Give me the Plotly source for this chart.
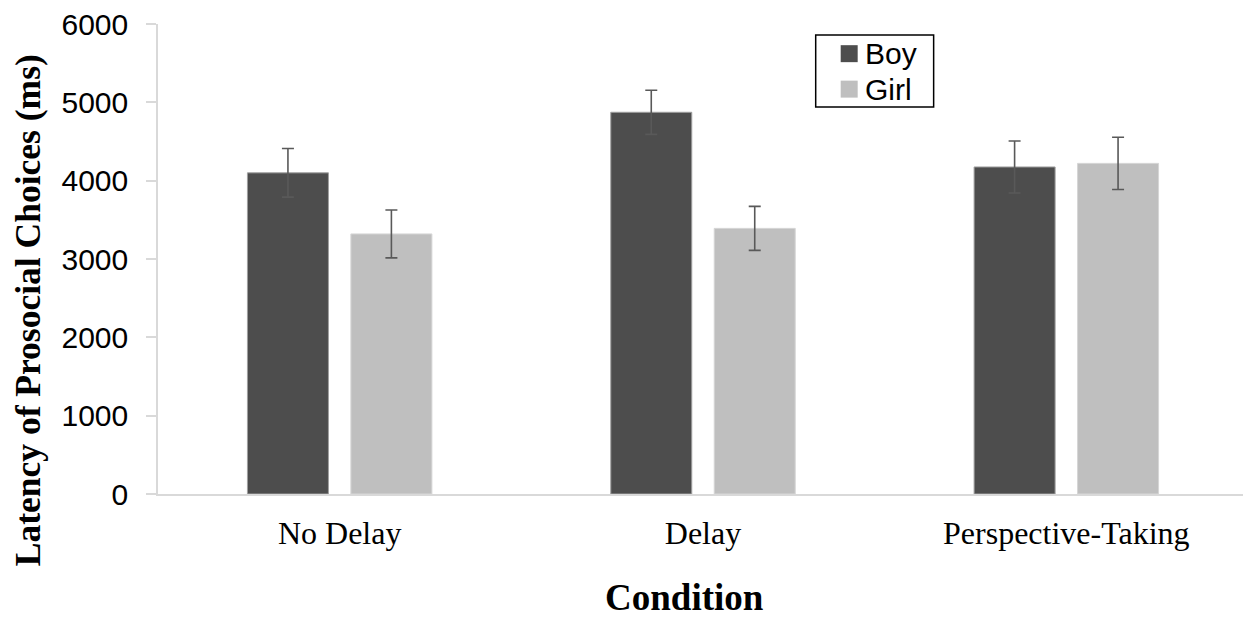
import plotly.graph_objects as go

conditions = ["No Delay", "Delay", "Perspective-Taking"]
boy_values = [4100, 4873, 4175]
boy_errors = [310, 282, 332]
girl_values = [3320, 3391, 4221]
girl_errors = [306, 281, 333]
y_ticks = [0, 1000, 2000, 3000, 4000, 5000, 6000]
series_names = ["Boy", "Girl"]
series_colors = ["#4d4d4d", "#bfbfbf"]
edge_colors = ["#a0a0a0", "#d6d6d6"]

# page body has an 8px default margin; size the figure to fit the window
OFF = 8
W, H = 1251 - OFF, 618 - OFF
PL, PT, PR, PB = 158, 24, 1248.5, 494.5  # plot area in window pixels
L, T = PL - OFF, PT - OFF
R, B = 1251 - PR, 618 - PB

def px(X):
    return (X - PL) / (PR - PL)

def py(Y):
    return (PB - Y) / (PB - PT)

fig = go.Figure()
for name, vals, errs, col, edge in zip(series_names, [boy_values, girl_values],
                                       [boy_errors, girl_errors], series_colors, edge_colors):
    fig.add_trace(go.Bar(
        name=name, x=conditions, y=vals,
        marker=dict(color=col, line=dict(color=edge, width=1)),
        error_y=dict(type="data", array=errs, visible=True,
                     color="#595959", thickness=1.6, width=6),
    ))

shapes = [dict(type="rect", xref="paper", yref="paper",
               x0=px(816), x1=px(934), y0=py(107), y1=py(35),
               line=dict(color="black", width=1.5), fillcolor="white", layer="above")]
annotations = []
for i, (name, col) in enumerate(zip(series_names, series_colors)):
    cy = 53.7 + i * 35.5
    shapes.append(dict(type="rect", xref="paper", yref="paper",
                       x0=px(841), x1=px(858), y0=py(cy + 8.5), y1=py(cy - 8.5),
                       line=dict(width=0), fillcolor=col, layer="above"))
    annotations.append(dict(text=name, xref="paper", yref="paper",
                            x=px(863), y=py(cy), xanchor="left", yanchor="middle",
                            showarrow=False,
                            font=dict(family="Liberation Sans, Arial", size=30, color="black")))

annotations += [
    dict(text="<b>Latency of Prosocial Choices (ms)</b>", textangle=-90,
         xref="paper", yref="paper", x=px(27.5), y=py(311),
         xanchor="center", yanchor="middle", showarrow=False,
         font=dict(family="Liberation Serif, Times New Roman", size=35.5, color="black")),
    dict(text="<b>Condition</b>", xref="paper", yref="paper",
         x=px(685), y=py(598), xanchor="center", yanchor="middle", showarrow=False,
         font=dict(family="Liberation Serif, Times New Roman", size=37, color="black")),
]

fig.update_layout(
    width=W, height=H,
    margin=dict(l=L, r=R, t=T, b=B, pad=0, autoexpand=False),
    paper_bgcolor="white", plot_bgcolor="white",
    barmode="group", bargap=0.4305, bargroupgap=0.217,
    showlegend=False,
    xaxis=dict(
        showline=True, linecolor="#d9d9d9", linewidth=1.5,
        ticks="", showgrid=False, automargin=False,
        tickfont=dict(family="Liberation Serif, Times New Roman", size=32, color="black"),
        ticklabelstandoff=10,
    ),
    yaxis=dict(
        range=[0, 6000], tickvals=y_ticks, automargin=False,
        showline=True, linecolor="#d9d9d9", linewidth=1.5,
        ticks="outside", ticklen=10, tickcolor="#d9d9d9", tickwidth=1.5,
        showgrid=False, zeroline=False,
        tickfont=dict(family="Liberation Sans, Arial", size=30, color="black"),
        ticklabelstandoff=12, ticklabeloverflow="allow",
    ),
    shapes=shapes,
    annotations=annotations,
)

fig.write_html("out.html")
